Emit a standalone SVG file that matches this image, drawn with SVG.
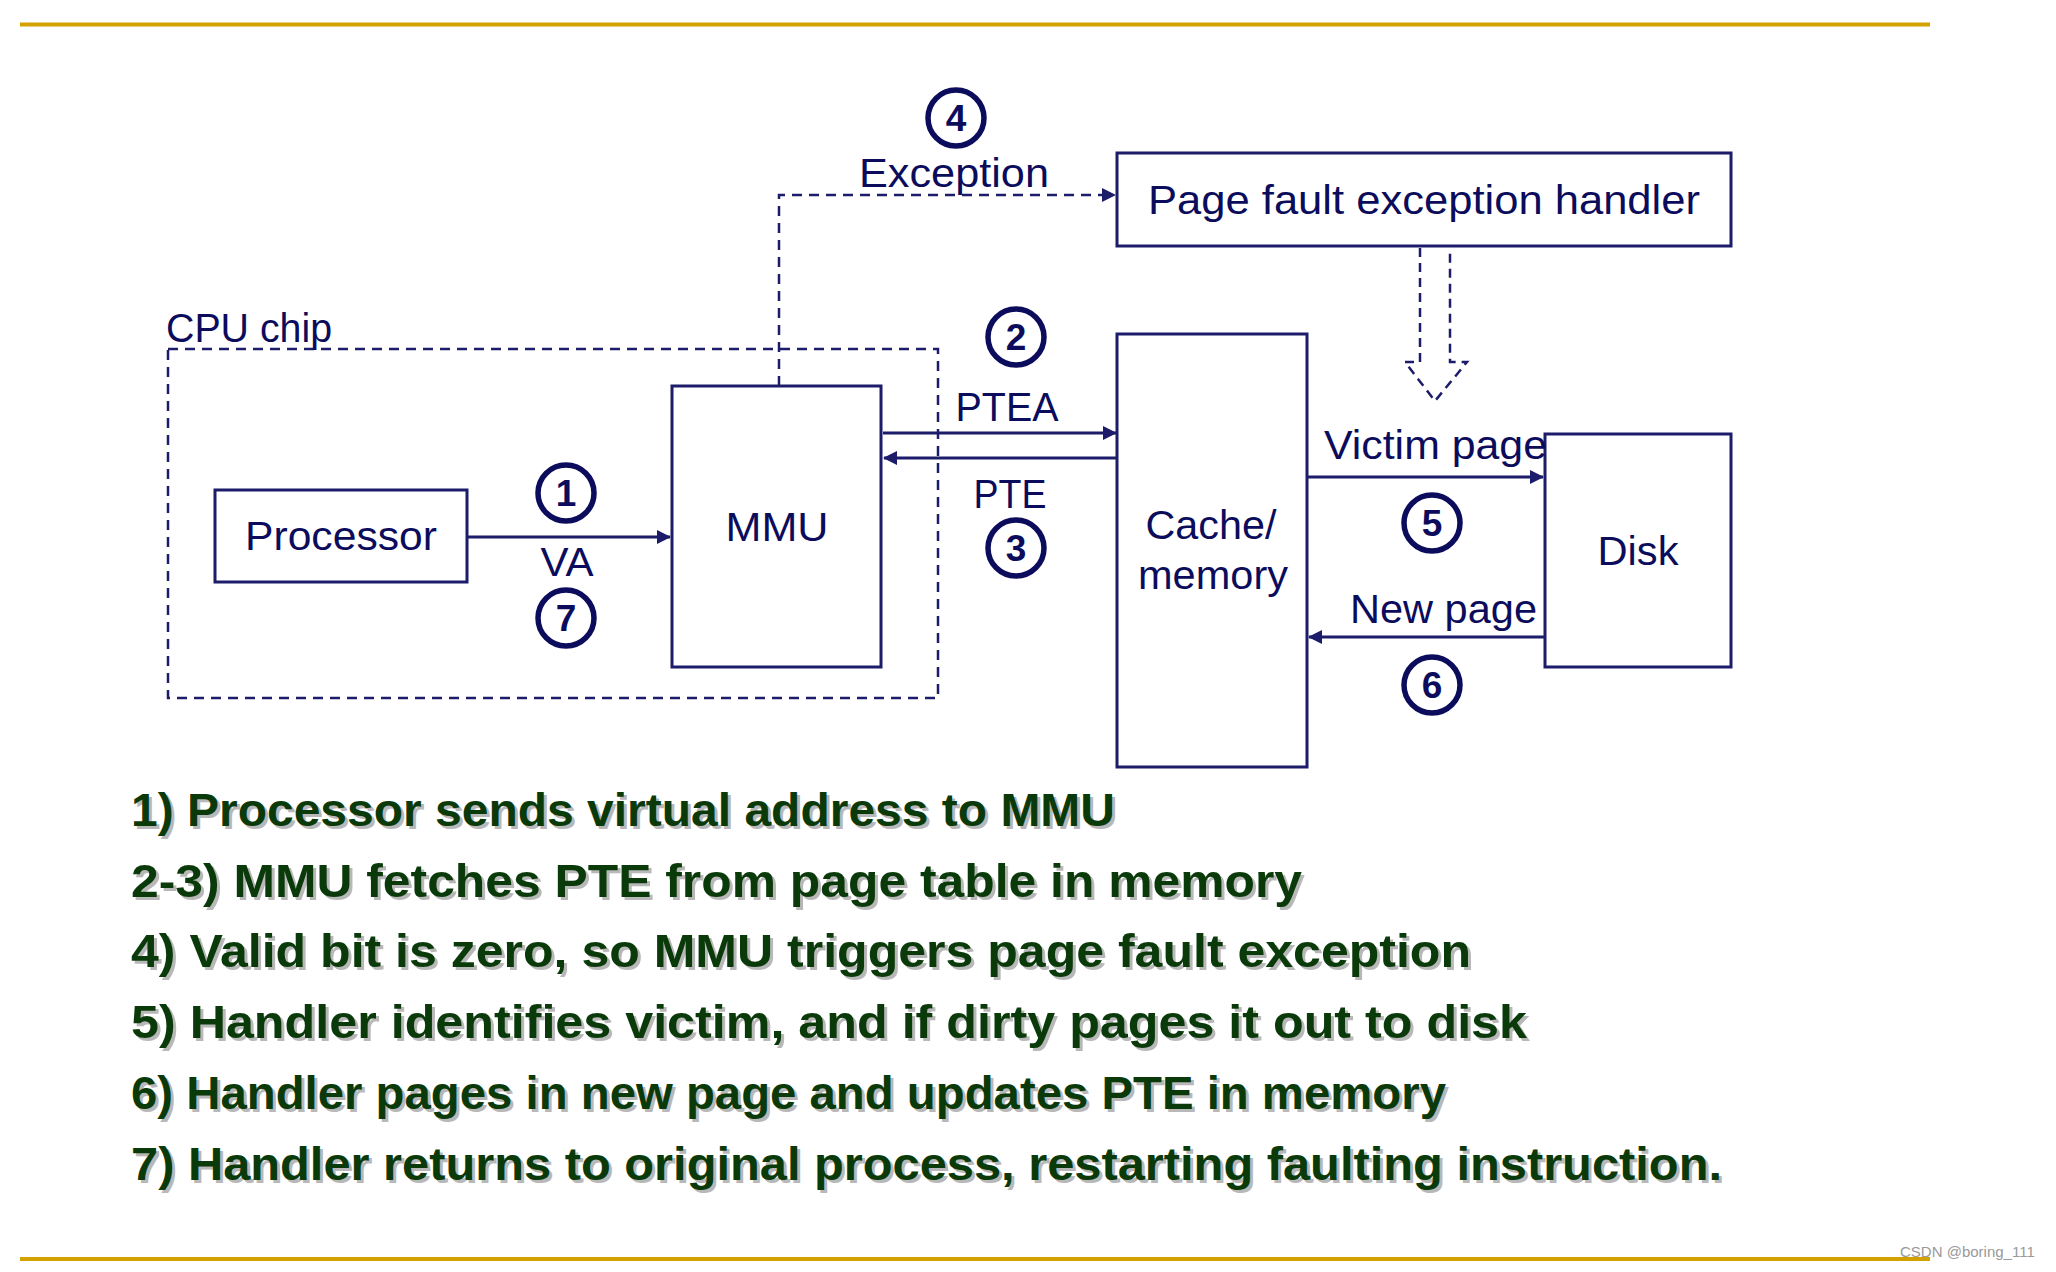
<svg xmlns="http://www.w3.org/2000/svg" width="2056" height="1272" viewBox="0 0 2056 1272">
<style>
.bg{fill:#ffffff}
.rule{stroke:#d4a200;stroke-width:4}
.box{fill:#ffffff;stroke:#1c1c6a;stroke-width:3}
.dbox{fill:none;stroke:#1c1c6a;stroke-width:2.5;stroke-dasharray:10 7}
.lbl{font-family:"Liberation Sans","DejaVu Sans",sans-serif;font-size:41px;fill:#0c0c5c}
.mid{text-anchor:middle}
.wire{fill:none;stroke:#1c1c6a;stroke-width:3}
.dash{fill:none;stroke:#1c1c6a;stroke-width:2.5;stroke-dasharray:10 7}
.ncirc{fill:none;stroke:#0c0c5c;stroke-width:5.5}
.ntxt{font-family:"Liberation Sans","DejaVu Sans",sans-serif;font-size:37px;font-weight:bold;fill:#0c0c5c;text-anchor:middle}
.step{font-family:"Liberation Sans","DejaVu Sans",sans-serif;font-size:47px;font-weight:bold;fill:#0a3a0a}
.shadow{fill:#b8b8b8}
.wm{font-family:"Liberation Sans","DejaVu Sans",sans-serif;font-size:15px;fill:#999999}
</style>
<defs>
<marker id="arrb" markerWidth="14" markerHeight="14" refX="13" refY="7" orient="auto" markerUnits="userSpaceOnUse" viewBox="0 0 14 14">
<path d="M0,0 L14,7 L0,14 z" fill="#1c1c6a"/>
</marker>
</defs>
<rect class="bg" x="0" y="0" width="2056" height="1272"/>
<line class="rule" x1="20" y1="24.5" x2="1930" y2="24.5"/>
<line class="rule" x1="20" y1="1259" x2="1930" y2="1259"/>

<g id="cpu-chip">
<rect class="dbox" x="168" y="349" width="770" height="349"/>
<text class="lbl" x="166" y="342" textLength="166" lengthAdjust="spacingAndGlyphs">CPU chip</text>
</g>

<g id="connectors">
<path class="dash" d="M779,386 V195 H1115" marker-end="url(#arrb)"/>
<line class="wire" x1="467" y1="537" x2="670" y2="537" marker-end="url(#arrb)"/>
<line class="wire" x1="883" y1="433" x2="1116" y2="433" marker-end="url(#arrb)"/>
<line class="wire" x1="1117" y1="458" x2="884" y2="458" marker-end="url(#arrb)"/>
<line class="wire" x1="1307" y1="477" x2="1543" y2="477" marker-end="url(#arrb)"/>
<line class="wire" x1="1545" y1="637" x2="1309" y2="637" marker-end="url(#arrb)"/>
<path class="dash" d="M1420,248 V362 H1405 L1435,401 L1467,362 H1450 V248" style="stroke-dasharray:9 6"/>
</g>

<g id="handler">
<rect class="box" x="1117" y="153" width="614" height="93"/>
<text class="lbl mid" x="1424" y="214" textLength="552" lengthAdjust="spacingAndGlyphs">Page fault exception handler</text>
</g>

<g id="processor">
<rect class="box" x="215" y="490" width="252" height="92"/>
<text class="lbl mid" x="341" y="550" textLength="192" lengthAdjust="spacingAndGlyphs">Processor</text>
</g>

<g id="mmu">
<rect class="box" x="672" y="386" width="209" height="281"/>
<text class="lbl mid" x="777" y="541" textLength="103" lengthAdjust="spacingAndGlyphs">MMU</text>
</g>

<g id="cache">
<rect class="box" x="1117" y="334" width="190" height="433"/>
<text class="lbl mid" x="1211" y="539" textLength="131" lengthAdjust="spacingAndGlyphs">Cache/</text>
<text class="lbl mid" x="1213" y="589" textLength="150" lengthAdjust="spacingAndGlyphs">memory</text>
</g>

<g id="disk">
<rect class="box" x="1545" y="434" width="186" height="233"/>
<text class="lbl mid" x="1638" y="565" textLength="81" lengthAdjust="spacingAndGlyphs">Disk</text>
</g>

<g id="edge-labels">
<text class="lbl mid" x="954" y="187" textLength="190" lengthAdjust="spacingAndGlyphs">Exception</text>
<text class="lbl mid" x="567" y="576" textLength="53" lengthAdjust="spacingAndGlyphs">VA</text>
<text class="lbl mid" x="1007" y="421" textLength="103" lengthAdjust="spacingAndGlyphs">PTEA</text>
<text class="lbl mid" x="1010" y="508" textLength="73" lengthAdjust="spacingAndGlyphs">PTE</text>
<text class="lbl" x="1324" y="459" textLength="223" lengthAdjust="spacingAndGlyphs">Victim page</text>
<text class="lbl" x="1350" y="623" textLength="187" lengthAdjust="spacingAndGlyphs">New page</text>
</g>

<g id="step-markers">
<circle class="ncirc" cx="956" cy="118" r="28"/><text class="ntxt" x="956" y="131">4</text>
<circle class="ncirc" cx="566" cy="493" r="28"/><text class="ntxt" x="566" y="506">1</text>
<circle class="ncirc" cx="566" cy="618" r="28"/><text class="ntxt" x="566" y="631">7</text>
<circle class="ncirc" cx="1016" cy="337" r="28"/><text class="ntxt" x="1016" y="350">2</text>
<circle class="ncirc" cx="1016" cy="548" r="28"/><text class="ntxt" x="1016" y="561">3</text>
<circle class="ncirc" cx="1432" cy="523" r="28"/><text class="ntxt" x="1432" y="536">5</text>
<circle class="ncirc" cx="1432" cy="685" r="28"/><text class="ntxt" x="1432" y="698">6</text>
</g>

<g id="steps">
<g class="shadow">
<text class="step shadow" x="134" y="829" textLength="984" lengthAdjust="spacingAndGlyphs">1) Processor sends virtual address to MMU</text>
<text class="step shadow" x="134" y="900" textLength="1171" lengthAdjust="spacingAndGlyphs">2-3) MMU fetches PTE from page table in memory</text>
<text class="step shadow" x="134" y="970" textLength="1340" lengthAdjust="spacingAndGlyphs">4) Valid bit is zero, so MMU triggers page fault exception</text>
<text class="step shadow" x="134" y="1041" textLength="1396" lengthAdjust="spacingAndGlyphs">5) Handler identifies victim, and if dirty pages it out to disk</text>
<text class="step shadow" x="134" y="1112" textLength="1315" lengthAdjust="spacingAndGlyphs">6) Handler pages in new page and updates PTE in memory</text>
<text class="step shadow" x="134" y="1183" textLength="1591" lengthAdjust="spacingAndGlyphs">7) Handler returns to original process, restarting faulting instruction.</text>
</g>
<text class="step" x="131" y="826" textLength="984" lengthAdjust="spacingAndGlyphs">1) Processor sends virtual address to MMU</text>
<text class="step" x="131" y="897" textLength="1171" lengthAdjust="spacingAndGlyphs">2-3) MMU fetches PTE from page table in memory</text>
<text class="step" x="131" y="967" textLength="1340" lengthAdjust="spacingAndGlyphs">4) Valid bit is zero, so MMU triggers page fault exception</text>
<text class="step" x="131" y="1038" textLength="1396" lengthAdjust="spacingAndGlyphs">5) Handler identifies victim, and if dirty pages it out to disk</text>
<text class="step" x="131" y="1109" textLength="1315" lengthAdjust="spacingAndGlyphs">6) Handler pages in new page and updates PTE in memory</text>
<text class="step" x="131" y="1180" textLength="1591" lengthAdjust="spacingAndGlyphs">7) Handler returns to original process, restarting faulting instruction.</text>
</g>

<text class="wm" x="1900" y="1257">CSDN @boring_111</text>
</svg>
